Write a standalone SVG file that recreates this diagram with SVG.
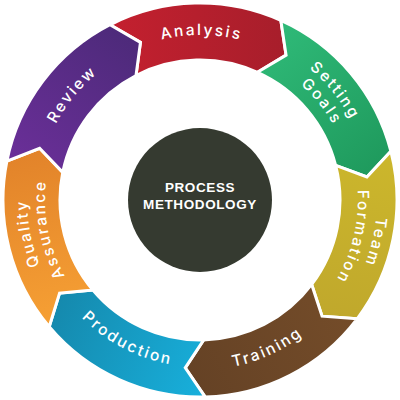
<svg xmlns="http://www.w3.org/2000/svg" xmlns:xlink="http://www.w3.org/1999/xlink" width="400" height="400" viewBox="0 0 400 400">
<style>
.seg{stroke:#fff;stroke-width:3;stroke-linejoin:miter}
.lbl{font-family:Inter,"DejaVu Sans","Liberation Sans",sans-serif;font-weight:500;font-size:15.5px;fill:#fff;letter-spacing:2.2px}
.ctr{font-family:"Liberation Sans",Arial,sans-serif;font-weight:bold;font-size:13.5px;fill:#fff;letter-spacing:0.6px;text-anchor:middle}
</style>
<defs>
<path id="seg" d="M114.53,22.51 A197,197 0 0 1 285.47,22.51 L289.83,57.44 L260.74,73.86 A140,140 0 0 0 139.26,73.86 L144.55,40.89 Z"/>
<path id="a165" d="M83.33,83.33 A165,165 0 0 1 316.67,83.33"/>
<path id="a163" d="M84.74,84.74 A163,163 0 0 1 315.26,84.74"/>
<path id="a171" d="M79.08,79.08 A171,171 0 0 1 320.92,79.08"/>
<path id="a153" d="M91.81,91.81 A153,153 0 0 1 308.19,91.81"/>
<path id="a177" d="M74.84,74.84 A177,177 0 0 1 325.16,74.84"/>
<path id="a158" d="M88.28,88.28 A158,158 0 0 1 311.72,88.28"/>
<path id="a173" d="M77.67,77.67 A173,173 0 0 1 322.33,77.67"/>
<path id="a155" d="M90.40,90.40 A155,155 0 0 1 309.60,90.40"/>
<path id="b170" d="M79.79,320.21 A170,170 0 0 0 320.21,320.21"/>
<path id="b167" d="M81.91,318.09 A167,167 0 0 0 318.09,318.09"/>
<linearGradient id="gA" x1="0" y1="0" x2="1" y2="0"><stop offset="0" stop-color="#c4202f"/><stop offset="1" stop-color="#a71e2b"/></linearGradient>
<linearGradient id="gS" x1="0" y1="0" x2="1" y2="0"><stop offset="0" stop-color="#2fba78"/><stop offset="1" stop-color="#1f9a5d"/></linearGradient>
<linearGradient id="gT" x1="0" y1="0" x2="1" y2="0"><stop offset="0" stop-color="#ccb72c"/><stop offset="1" stop-color="#c0a82c"/></linearGradient>
<linearGradient id="gR" x1="0" y1="0" x2="1" y2="0"><stop offset="0" stop-color="#744c29"/><stop offset="1" stop-color="#654225"/></linearGradient>
<linearGradient id="gP" x1="0" y1="0" x2="1" y2="0"><stop offset="0" stop-color="#18b0dc"/><stop offset="1" stop-color="#1589ad"/></linearGradient>
<linearGradient id="gQ" x1="0" y1="0" x2="1" y2="0"><stop offset="0" stop-color="#f6a034"/><stop offset="1" stop-color="#e2832a"/></linearGradient>
<linearGradient id="gV" x1="0" y1="0" x2="1" y2="0"><stop offset="0" stop-color="#6b2f99"/><stop offset="1" stop-color="#4d2a7a"/></linearGradient>
</defs>
<rect width="400" height="400" fill="#fff"/>
<g id="connectors"></g>
<g id="analysis">
<use xlink:href="#seg" href="#seg" class="seg" fill="url(#gA)" transform="rotate(-1.49 200 200)"/>
<text class="lbl" transform="rotate(0.5 200 200)"><textPath xlink:href="#a165" href="#a165" startOffset="50%" text-anchor="middle">Analysis</textPath></text>
</g>
<g id="setting-goals">
<use xlink:href="#seg" href="#seg" class="seg" fill="url(#gS)" transform="rotate(49.94 200 200)"/>
<text class="lbl" transform="rotate(51 200 200)"><textPath xlink:href="#a171" href="#a171" startOffset="50%" text-anchor="middle">Setting</textPath></text>
<text class="lbl" transform="rotate(51 200 200)"><textPath xlink:href="#a153" href="#a153" startOffset="50%" text-anchor="middle">Goals</textPath></text>
</g>
<g id="team-formation">
<use xlink:href="#seg" href="#seg" class="seg" fill="url(#gT)" transform="rotate(101.37 200 200)"/>
<text class="lbl" transform="rotate(103.5 200 200)"><textPath xlink:href="#a177" href="#a177" startOffset="50%" text-anchor="middle">Team</textPath></text>
<text class="lbl" transform="rotate(103.5 200 200)"><textPath xlink:href="#a158" href="#a158" startOffset="50%" text-anchor="middle">Formation</textPath></text>
</g>
<g id="training">
<use xlink:href="#seg" href="#seg" class="seg" fill="url(#gR)" transform="rotate(152.8 200 200)"/>
<text class="lbl" transform="rotate(-24.4 200 200)"><textPath xlink:href="#b170" href="#b170" startOffset="50%" text-anchor="middle">Training</textPath></text>
</g>
<g id="production">
<use xlink:href="#seg" href="#seg" class="seg" fill="url(#gP)" transform="rotate(204.23 200 200)"/>
<text class="lbl" transform="rotate(27.5 200 200)"><textPath xlink:href="#b167" href="#b167" startOffset="50%" text-anchor="middle">Production</textPath></text>
</g>
<g id="quality-assurance">
<use xlink:href="#seg" href="#seg" class="seg" fill="url(#gQ)" transform="rotate(255.66 200 200)"/>
<text class="lbl" transform="rotate(259 200 200)"><textPath xlink:href="#a173" href="#a173" startOffset="50%" text-anchor="middle">Quality</textPath></text>
<text class="lbl" transform="rotate(259 200 200)"><textPath xlink:href="#a155" href="#a155" startOffset="50%" text-anchor="middle">Assurance</textPath></text>
</g>
<g id="review">
<use xlink:href="#seg" href="#seg" class="seg" fill="url(#gV)" transform="rotate(307.09 200 200)"/>
<text class="lbl" transform="rotate(309.5 200 200)"><textPath xlink:href="#a163" href="#a163" startOffset="50%" text-anchor="middle">Review</textPath></text>
</g>
<g id="center">
<circle cx="200" cy="200" r="72" fill="#353a30"/>
<text class="ctr" x="200" y="192">PROCESS</text>
<text class="ctr" x="200" y="209">METHODOLOGY</text>
</g>
</svg>
